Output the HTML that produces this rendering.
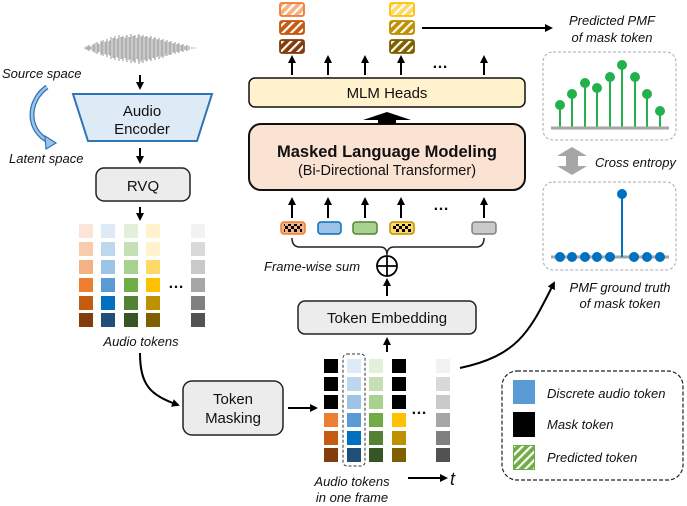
<!DOCTYPE html>
<html><head><meta charset="utf-8"><style>
html,body{margin:0;padding:0;background:#fff}
svg{display:block}
text{font-family:"Liberation Sans",sans-serif;fill:#111}
.i{font-style:italic}
</style></head><body>
<svg width="687" height="506" viewBox="0 0 687 506" xmlns="http://www.w3.org/2000/svg">
<defs>
<marker id="ah" markerWidth="8" markerHeight="8" refX="6" refY="4" orient="auto" markerUnits="userSpaceOnUse"><path d="M0,0 L8,4 L0,8 Z" fill="#000"/></marker>
<pattern id="hatch" width="6" height="6" patternUnits="userSpaceOnUse" patternTransform="rotate(45)"><rect x="0" y="0" width="2.2" height="6" fill="#fff"/></pattern>
<pattern id="chk" width="6" height="6" patternUnits="userSpaceOnUse" x="282" y="223"><rect x="0" y="0" width="3" height="3" fill="#000"/><rect x="3" y="3" width="3" height="3" fill="#000"/></pattern>
</defs>

<!-- waveform -->
<path fill="none" stroke="#8a8a8a" stroke-width="0.9" d="
M85,47V49 M87,46V50 M89,45V51 M91,46V50 M93,44V52 M95,43V53 M97,42V54 M99,44V52 M101,41V55 M103,40V56 M105,42V54 M107,39V57 M109,41V55 M111,37V59 M113,38V58 M115,36V60 M117,39V57 M119,35V61 M121,37V59 M123,36V61 M125,38V58 M127,35V62 M129,37V60 M131,34V63 M133,36V61 M135,35V63 M137,38V59 M139,34V64 M141,36V62 M143,35V63 M145,37V60 M147,36V61 M149,38V59 M151,36V61 M153,39V58 M155,37V60 M157,39V57 M159,38V59 M161,40V57 M163,39V58 M165,41V56 M167,40V56 M169,42V55 M171,41V55 M173,43V53 M175,42V54 M177,44V52 M179,43V53 M181,45V51 M183,44V52 M185,46V50 M187,45V51 M189,46V50 M192,47V49 M195,47.5V48.5"/>
<path fill="none" stroke="#b5b5b5" stroke-width="0.7" d="M86,48V48.5 M88,46V50 M90,47V49 M94,45V51 M98,43V53 M102,42V54 M106,41V55 M110,40V56 M114,38V58 M118,38V58 M122,37V59 M126,36V60 M130,37V59 M134,36V62 M138,35V61 M142,37V60 M146,36V62 M150,37V60 M154,38V58 M158,40V56 M162,40V56 M166,42V54 M170,42V54 M174,44V52 M178,44V52 M182,45V51 M186,46V50"/>

<text x="2" y="78" class="i" font-size="13">Source space</text>
<text x="9" y="163" class="i" font-size="13">Latent space</text>
<path d="M47,87 C28,100 25,130 50,142" fill="none" stroke="#2e75b6" stroke-width="5"/>
<path d="M47,87 C28,100 25,130 50,142" fill="none" stroke="#9dc3e6" stroke-width="2.5"/>
<path d="M45,136 L56,143 L46,149 Z" fill="#9dc3e6" stroke="#2e75b6" stroke-width="1.2"/>

<line x1="140" y1="75" x2="140" y2="88" stroke="#000" stroke-width="2" marker-end="url(#ah)"/>
<polygon points="73,94 212,94 197,141 88,141" fill="#deebf7" stroke="#2e75b6" stroke-width="2"/>
<text x="142" y="116" font-size="15" text-anchor="middle">Audio</text>
<text x="142" y="134" font-size="15" text-anchor="middle">Encoder</text>
<line x1="140" y1="148" x2="140" y2="162" stroke="#000" stroke-width="2" marker-end="url(#ah)"/>
<rect x="96" y="168" width="94" height="33" rx="8" fill="#ececec" stroke="#222" stroke-width="1.5"/>
<text x="143" y="191" font-size="15" text-anchor="middle">RVQ</text>
<line x1="140" y1="207" x2="140" y2="219" stroke="#000" stroke-width="2" marker-end="url(#ah)"/>

<!-- grid 1 -->
<g>
<rect x="79" y="224" width="14" height="14" fill="#fbe5d6"/><rect x="79" y="242" width="14" height="14" fill="#f8cbad"/><rect x="79" y="260" width="14" height="14" fill="#f4b183"/><rect x="79" y="278" width="14" height="14" fill="#ed7d31"/><rect x="79" y="296" width="14" height="14" fill="#c55a11"/><rect x="79" y="313" width="14" height="14" fill="#843c0c"/>
<rect x="101" y="224" width="14" height="14" fill="#deebf7"/><rect x="101" y="242" width="14" height="14" fill="#bdd7ee"/><rect x="101" y="260" width="14" height="14" fill="#9dc3e6"/><rect x="101" y="278" width="14" height="14" fill="#5b9bd5"/><rect x="101" y="296" width="14" height="14" fill="#0070c0"/><rect x="101" y="313" width="14" height="14" fill="#1f4e79"/>
<rect x="124" y="224" width="14" height="14" fill="#e2f0d9"/><rect x="124" y="242" width="14" height="14" fill="#c5e0b4"/><rect x="124" y="260" width="14" height="14" fill="#a9d18e"/><rect x="124" y="278" width="14" height="14" fill="#70ad47"/><rect x="124" y="296" width="14" height="14" fill="#548235"/><rect x="124" y="313" width="14" height="14" fill="#375623"/>
<rect x="146" y="224" width="14" height="14" fill="#fff2cc"/><rect x="146" y="242" width="14" height="14" fill="#fff2cc"/><rect x="146" y="260" width="14" height="14" fill="#ffd966"/><rect x="146" y="278" width="14" height="14" fill="#ffc000"/><rect x="146" y="296" width="14" height="14" fill="#bf9000"/><rect x="146" y="313" width="14" height="14" fill="#7f6000"/>
<rect x="191" y="224" width="14" height="14" fill="#f2f2f2"/><rect x="191" y="242" width="14" height="14" fill="#d9d9d9"/><rect x="191" y="260" width="14" height="14" fill="#c9c9c9"/><rect x="191" y="278" width="14" height="14" fill="#a6a6a6"/><rect x="191" y="296" width="14" height="14" fill="#808080"/><rect x="191" y="313" width="14" height="14" fill="#525252"/>
</g>
<text x="176" y="288" font-size="16" font-weight="bold" text-anchor="middle">…</text>
<text x="141" y="346" class="i" font-size="13" text-anchor="middle">Audio tokens</text>
<path d="M140,353 C140,385 150,395 178,405" fill="none" stroke="#000" stroke-width="2" marker-end="url(#ah)"/>

<rect x="183" y="381" width="100" height="54" rx="9" fill="#ececec" stroke="#222" stroke-width="1.5"/>
<text x="233" y="404" font-size="15" text-anchor="middle">Token</text>
<text x="233" y="423" font-size="15" text-anchor="middle">Masking</text>
<line x1="288" y1="408" x2="316" y2="408" stroke="#000" stroke-width="2" marker-end="url(#ah)"/>

<!-- grid 2 -->
<g>
<rect x="324" y="359" width="14" height="14" fill="#000"/><rect x="324" y="377" width="14" height="14" fill="#000"/><rect x="324" y="395" width="14" height="14" fill="#000"/><rect x="324" y="413" width="14" height="14" fill="#ed7d31"/><rect x="324" y="431" width="14" height="14" fill="#c55a11"/><rect x="324" y="448" width="14" height="14" fill="#843c0c"/>
<rect x="347" y="359" width="14" height="14" fill="#deebf7"/><rect x="347" y="377" width="14" height="14" fill="#bdd7ee"/><rect x="347" y="395" width="14" height="14" fill="#9dc3e6"/><rect x="347" y="413" width="14" height="14" fill="#5b9bd5"/><rect x="347" y="431" width="14" height="14" fill="#0070c0"/><rect x="347" y="448" width="14" height="14" fill="#1f4e79"/>
<rect x="369" y="359" width="14" height="14" fill="#e2f0d9"/><rect x="369" y="377" width="14" height="14" fill="#c5e0b4"/><rect x="369" y="395" width="14" height="14" fill="#a9d18e"/><rect x="369" y="413" width="14" height="14" fill="#70ad47"/><rect x="369" y="431" width="14" height="14" fill="#548235"/><rect x="369" y="448" width="14" height="14" fill="#375623"/>
<rect x="392" y="359" width="14" height="14" fill="#000"/><rect x="392" y="377" width="14" height="14" fill="#000"/><rect x="392" y="395" width="14" height="14" fill="#000"/><rect x="392" y="413" width="14" height="14" fill="#ffc000"/><rect x="392" y="431" width="14" height="14" fill="#bf9000"/><rect x="392" y="448" width="14" height="14" fill="#7f6000"/>
<rect x="436" y="359" width="14" height="14" fill="#f2f2f2"/><rect x="436" y="377" width="14" height="14" fill="#d9d9d9"/><rect x="436" y="395" width="14" height="14" fill="#c9c9c9"/><rect x="436" y="413" width="14" height="14" fill="#a6a6a6"/><rect x="436" y="431" width="14" height="14" fill="#808080"/><rect x="436" y="448" width="14" height="14" fill="#525252"/>
</g>
<rect x="343" y="354" width="22" height="112" rx="4" fill="none" stroke="#333" stroke-width="1" stroke-dasharray="3,2"/>
<text x="419" y="414" font-size="16" font-weight="bold" text-anchor="middle">…</text>
<text x="352" y="486" class="i" font-size="13" text-anchor="middle">Audio tokens</text>
<text x="352" y="502" class="i" font-size="13" text-anchor="middle">in one frame</text>
<line x1="408" y1="478" x2="446" y2="478" stroke="#000" stroke-width="2" marker-end="url(#ah)"/>
<text x="450" y="485" font-family="Liberation Serif,serif" font-style="italic" font-size="18">t</text>

<line x1="387" y1="352" x2="387" y2="339" stroke="#000" stroke-width="2" marker-end="url(#ah)"/>
<rect x="298" y="301" width="178" height="33" rx="7" fill="#ececec" stroke="#222" stroke-width="1.5"/>
<text x="387" y="323" font-size="15" text-anchor="middle">Token Embedding</text>
<line x1="387" y1="296" x2="387" y2="280" stroke="#000" stroke-width="2" marker-end="url(#ah)"/>

<path d="M460,368 C520,355 530,330 554,283" fill="none" stroke="#000" stroke-width="2" marker-end="url(#ah)"/>

<!-- frame-wise sum -->
<circle cx="387" cy="266" r="10" fill="#fff" stroke="#000" stroke-width="1.8"/>
<line x1="377" y1="266" x2="397" y2="266" stroke="#000" stroke-width="1.8"/><line x1="387" y1="256" x2="387" y2="276" stroke="#000" stroke-width="1.8"/>
<text x="264" y="271" class="i" font-size="13">Frame-wise sum</text>
<path d="M292,238 Q292,247 300,247 L380,247 Q387,247 387,255 Q387,247 394,247 L476,247 Q484,247 484,238" fill="none" stroke="#222" stroke-width="1.5"/>

<!-- input small tokens -->
<rect x="281" y="222" width="24" height="12" rx="3" fill="#f4b183" stroke="#ed7d31" stroke-width="1.5"/>
<rect x="284" y="224" width="18" height="8" fill="url(#chk)"/>
<rect x="318" y="222" width="23" height="12" rx="3" fill="#9dc3e6" stroke="#0070c0" stroke-width="1.5"/>
<rect x="353" y="222" width="24" height="12" rx="3" fill="#a9d18e" stroke="#548235" stroke-width="1.5"/>
<rect x="390" y="222" width="24" height="12" rx="3" fill="#ffd966" stroke="#bf9000" stroke-width="1.5"/>
<rect x="393" y="224" width="18" height="8" fill="url(#chk)"/>
<rect x="472" y="222" width="24" height="12" rx="3" fill="#c9c9c9" stroke="#808080" stroke-width="1.5"/>
<text x="441" y="210" font-size="16" font-weight="bold" text-anchor="middle">…</text>
<g stroke="#000" stroke-width="2" marker-end="url(#ah)">
<line x1="292" y1="218" x2="292" y2="199"/><line x1="328" y1="218" x2="328" y2="199"/><line x1="365" y1="218" x2="365" y2="199"/><line x1="401" y1="218" x2="401" y2="199"/><line x1="484" y1="218" x2="484" y2="199"/>
</g>

<rect x="249" y="124" width="276" height="66" rx="12" fill="#fbe3d4" stroke="#111" stroke-width="2"/>
<text x="387" y="157" font-size="16.5" font-weight="bold" text-anchor="middle">Masked Language Modeling</text>
<text x="387" y="175" font-size="14.5" text-anchor="middle">(Bi-Directional Transformer)</text>
<polygon points="363,120 387,112 411,120 396,120 396,124 378,124 378,120" fill="#000"/>
<rect x="249" y="78" width="276" height="29" rx="6" fill="#fff2cc" stroke="#111" stroke-width="1.5"/>
<text x="387" y="98" font-size="15" text-anchor="middle">MLM Heads</text>
<g stroke="#000" stroke-width="2" marker-end="url(#ah)">
<line x1="292" y1="75" x2="292" y2="57"/><line x1="328" y1="75" x2="328" y2="57"/><line x1="365" y1="75" x2="365" y2="57"/><line x1="401" y1="75" x2="401" y2="57"/><line x1="484" y1="75" x2="484" y2="57"/>
</g>
<text x="440" y="68" font-size="16" font-weight="bold" text-anchor="middle">…</text>

<!-- predicted tokens -->
<g stroke-width="1.8">
<rect x="280" y="3" width="24" height="13" rx="2" fill="#f4b183" stroke="#ed7d31"/><rect x="281" y="4" width="22" height="11" fill="url(#hatch)"/>
<rect x="280" y="21" width="24" height="13" rx="2" fill="#c55a11" stroke="#c55a11"/><rect x="281" y="22" width="22" height="11" fill="url(#hatch)"/>
<rect x="280" y="40" width="24" height="13" rx="2" fill="#843c0c" stroke="#843c0c"/><rect x="281" y="41" width="22" height="11" fill="url(#hatch)"/>
<rect x="390" y="3" width="24" height="13" rx="2" fill="#ffd966" stroke="#ffc000"/><rect x="391" y="4" width="22" height="11" fill="url(#hatch)"/>
<rect x="390" y="21" width="24" height="13" rx="2" fill="#bf9000" stroke="#bf9000"/><rect x="391" y="22" width="22" height="11" fill="url(#hatch)"/>
<rect x="390" y="40" width="24" height="13" rx="2" fill="#7f6000" stroke="#7f6000"/><rect x="391" y="41" width="22" height="11" fill="url(#hatch)"/>
</g>
<line x1="422" y1="28" x2="551" y2="28" stroke="#000" stroke-width="2" marker-end="url(#ah)"/>

<!-- right side -->
<text x="612" y="25" class="i" font-size="13" text-anchor="middle">Predicted PMF</text>
<text x="612" y="42" class="i" font-size="13" text-anchor="middle">of mask token</text>
<rect x="543" y="52" width="133" height="88" rx="10" fill="none" stroke="#aaa" stroke-width="1" stroke-dasharray="3,2"/>
<g stroke="#22b14c" stroke-width="2" fill="#22b14c">
<line x1="560" y1="127" x2="560" y2="105"/><circle cx="560" cy="105" r="4"/>
<line x1="572" y1="127" x2="572" y2="94"/><circle cx="572" cy="94" r="4"/>
<line x1="585" y1="127" x2="585" y2="83"/><circle cx="585" cy="83" r="4"/>
<line x1="597" y1="127" x2="597" y2="88"/><circle cx="597" cy="88" r="4"/>
<line x1="610" y1="127" x2="610" y2="77"/><circle cx="610" cy="77" r="4"/>
<line x1="622" y1="127" x2="622" y2="65"/><circle cx="622" cy="65" r="4"/>
<line x1="635" y1="127" x2="635" y2="77"/><circle cx="635" cy="77" r="4"/>
<line x1="647" y1="127" x2="647" y2="94"/><circle cx="647" cy="94" r="4"/>
<line x1="660" y1="127" x2="660" y2="111"/><circle cx="660" cy="111" r="4"/>
</g>
<line x1="551" y1="128" x2="669" y2="128" stroke="#a6a6a6" stroke-width="3"/>
<polygon points="572,147 587,156 578,156 578,166 587,166 572,175 557,166 566,166 566,156 557,156" fill="#a6a6a6"/>
<text x="595" y="167" class="i" font-size="13">Cross entropy</text>
<rect x="543" y="182" width="133" height="88" rx="10" fill="none" stroke="#aaa" stroke-width="1" stroke-dasharray="3,2"/>
<line x1="551" y1="257" x2="669" y2="257" stroke="#a6a6a6" stroke-width="3"/>
<g fill="#0070c0" stroke="#0070c0" stroke-width="2">
<circle cx="560" cy="257" r="4"/><circle cx="572" cy="257" r="4"/><circle cx="585" cy="257" r="4"/><circle cx="597" cy="257" r="4"/><circle cx="610" cy="257" r="4"/>
<circle cx="634" cy="257" r="4"/><circle cx="647" cy="257" r="4"/><circle cx="660" cy="257" r="4"/>
<line x1="622" y1="257" x2="622" y2="194"/><circle cx="622" cy="194" r="4"/>
</g>
<text x="620" y="292" class="i" font-size="13" text-anchor="middle">PMF ground truth</text>
<text x="620" y="308" class="i" font-size="13" text-anchor="middle">of mask token</text>

<!-- legend -->
<rect x="502" y="371" width="181" height="109" rx="15" fill="none" stroke="#222" stroke-width="1.2" stroke-dasharray="4,2"/>
<rect x="513" y="380" width="22" height="24" fill="#5b9bd5"/>
<text x="547" y="398" class="i" font-size="13">Discrete audio token</text>
<rect x="513" y="412" width="22" height="25" fill="#000"/>
<text x="547" y="429" class="i" font-size="13">Mask token</text>
<rect x="514" y="446" width="20" height="23" fill="#70ad47" stroke="#70ad47" stroke-width="2"/>
<rect x="514" y="446" width="20" height="23" fill="url(#hatch)"/>
<text x="547" y="462" class="i" font-size="13">Predicted token</text>
</svg>
</body></html>
